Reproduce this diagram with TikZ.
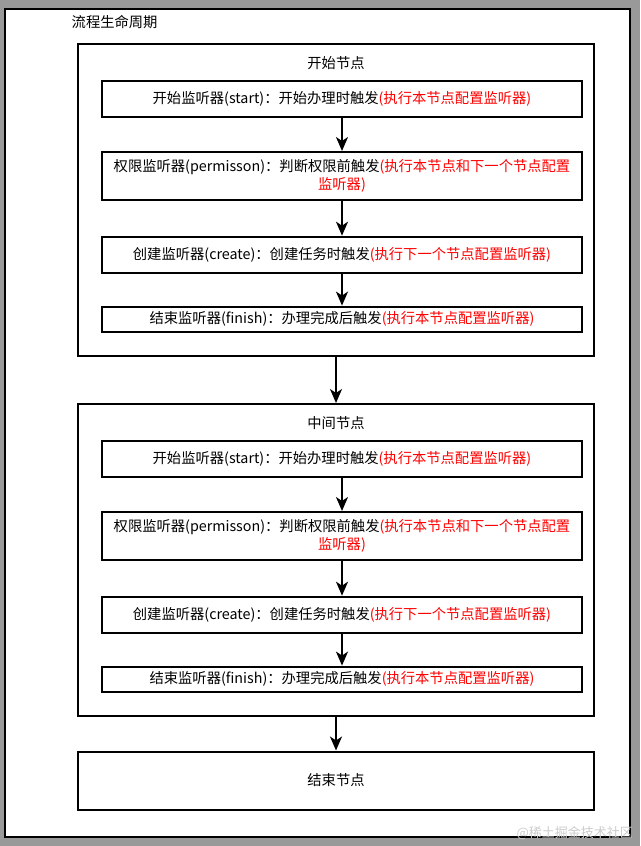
\documentclass[tikz,border=0pt]{standalone}
\usepackage{fontspec}
\newfontfamily\cjk{Noto Sans CJK SC}
\usetikzlibrary{arrows.meta}
\definecolor{bggray}{HTML}{999999}
\definecolor{redtxt}{HTML}{FF0000}
\begin{document}
\begin{tikzpicture}[x=1pt,y=-1pt,
  every node/.style={font=\cjk\fontsize{14.3}{17.5}\selectfont, inner sep=0pt},
  box/.style={draw=black, line width=2pt, fill=white, rectangle},
  lbox/.style={box, minimum width=480pt, align=center},
  sbox/.style={box, minimum width=516pt, minimum height=312pt},
  arr/.style={line width=2pt, -{Stealth[length=14pt,width=12pt,inset=4pt]}},
  red/.style={text=redtxt}]
\fill[bggray] (0,0) rectangle (640,846);
\useasboundingbox (0,0) rectangle (640,846);
\node[box, minimum width=624.5pt, minimum height=827.5pt] (frame) at (317.25,422.75) {};
\node[anchor=west] (title) at (71.5,22) {流程生命周期};
% section 1
\node[sbox] (s1) at (336,200) {};
\node (s1t) at (336,63) {开始节点};
\node[lbox, minimum height=36pt] (a1) at (342,98.7) {开始监听器(start)：开始办理时触发\textcolor{redtxt}{(执行本节点配置监听器)}};
\node[lbox, minimum height=48pt] (a2) at (342,176) {权限监听器(permisson)：判断权限前触发\textcolor{redtxt}{(执行本节点和下一个节点配置}\\\textcolor{redtxt}{监听器)}};
\node[lbox, minimum height=36pt] (a3) at (342,254.7) {创建监听器(create)：创建任务时触发\textcolor{redtxt}{(执行下一个节点配置监听器)}};
\node[lbox, minimum height=25pt] (a4) at (342,319.1) {结束监听器(finish)：办理完成后触发\textcolor{redtxt}{(执行本节点配置监听器)}};
\draw[arr] (a1.south) -- (a2.north);
\draw[arr] (a2.south) -- (a3.north);
\draw[arr] (a3.south) -- (a4.north);
% section 2
\node[sbox] (s2) at (336,560) {};
\node (s2t) at (336,423) {中间节点};
\node[lbox, minimum height=36pt] (b1) at (342,458.7) {开始监听器(start)：开始办理时触发\textcolor{redtxt}{(执行本节点配置监听器)}};
\node[lbox, minimum height=48pt] (b2) at (342,536) {权限监听器(permisson)：判断权限前触发\textcolor{redtxt}{(执行本节点和下一个节点配置}\\\textcolor{redtxt}{监听器)}};
\node[lbox, minimum height=36pt] (b3) at (342,614.7) {创建监听器(create)：创建任务时触发\textcolor{redtxt}{(执行下一个节点配置监听器)}};
\node[lbox, minimum height=25pt] (b4) at (342,679.1) {结束监听器(finish)：办理完成后触发\textcolor{redtxt}{(执行本节点配置监听器)}};
\draw[arr] (b1.south) -- (b2.north);
\draw[arr] (b2.south) -- (b3.north);
\draw[arr] (b3.south) -- (b4.north);
% end
\node[box, minimum width=516pt, minimum height=58pt] (e) at (336,780.5) {结束节点};
\draw[arr] (s1.south) -- (s2.north);
\draw[arr] (s2.south) -- (e.north);
% watermark
\node[anchor=east, text=gray!40, font=\cjk\fontsize{13}{13}\selectfont] (wm) at (633,833) {@稀土掘金技术社区};
\end{tikzpicture}
\end{document}
